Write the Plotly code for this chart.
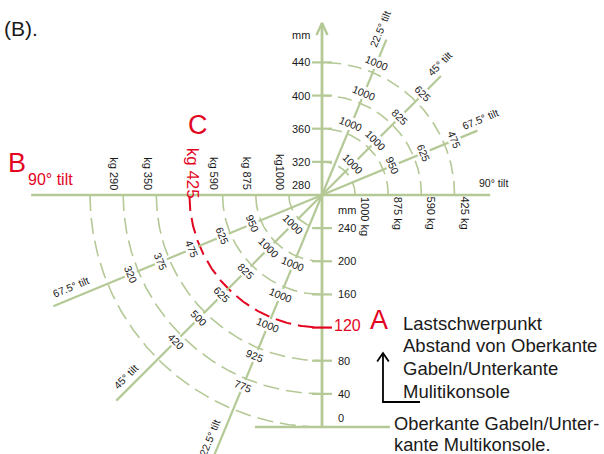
import numpy as np
import plotly.graph_objects as go

# ---------------- data ----------------
center_level = 280                      # mm level of the tilt pivot
lower_levels = [240, 200, 160, 120, 80, 40, 0]
upper_levels = [320, 360, 400, 440]
tilts = [22.5, 45, 67.5, 90]
highlight_level = 120

mm_tick_values = [40, 80, 120, 160, 200, 240, 320, 360, 400, 440]
mm_label_values = [0, 40, 80, 120, 160, 200, 240, 280, 320, 360, 400, 440]

left_kg_levels = [240, 200, 160, 120, 80, 40]
left_kg_labels = ["kg1000", "kg 875", "kg 590", "kg 425", "kg 350", "kg 290"]
right_kg_levels = [320, 360, 400, 440]
right_kg_labels = ["1000 kg", "875 kg", "590 kg", "425 kg"]

upper_cap_levels = [320, 360, 400, 440]
upper_cap_22 = [None, "1000", "1000", "1000"]
upper_cap_45 = ["1000", "1000", "825", "625"]
upper_cap_67 = [None, "950", "625", "475"]

lower_cap_levels = [240, 200, 160, 120, 80, 40]
lower_cap_22 = [None, "1000", "1000", "1000", "925", "775"]
lower_cap_45 = ["1000", "1000", "825", "625", "500", "420"]
lower_cap_67 = [None, "950", "625", "475", "375", "320"]

info_lines = ["Lastschwerpunkt", "Abstand von Oberkante", "Gabeln/Unterkante", "Mulitikonsole"]
base_lines = ["Oberkante Gabeln/Unter-", "kante Multikonsole."]

# ---------------- style ----------------
GREEN = "#b4c996"
RED = "#e3051f"
TXT = "#1a1a1a"
FONT = "Liberation Sans, Arial, sans-serif"
K = 0.8286  # px per mm unit
W, H = 604, 454
OX, OY0 = 322, 427  # pixel of x=0 and of level 0

UP_LEN, LO_LEN = 203, 351
AXIS_TOP = 487.6

fig = go.Figure()


def pol(r, th):
    t = np.radians(th)
    return r * np.cos(t), center_level + r * np.sin(t)


def add_line(xs, ys, color, width, dash="solid"):
    fig.add_trace(go.Scatter(x=list(xs), y=list(ys), mode="lines",
                             line=dict(color=color, width=width, dash=dash),
                             hoverinfo="skip", showlegend=False))


def ann(x, y, text, size=11, color=TXT, angle=0, xanchor="center", yanchor="middle", bg=None):
    kw = dict(x=x, y=y, text=text, showarrow=False, textangle=angle,
              font=dict(size=size, color=color, family=FONT),
              xanchor=xanchor, yanchor=yanchor, borderpad=0)
    if bg:
        kw["bgcolor"] = bg
    fig.add_annotation(**kw)


# arcs
for lv in lower_levels:
    r = center_level - lv
    xs, ys = pol(r, np.linspace(180, 270, 160))
    red = lv == highlight_level
    add_line(xs, ys, RED if red else GREEN, 2 if red else 1.6, "16px,7px")
for lv in upper_levels:
    r = lv - center_level
    xs, ys = pol(r, np.linspace(0, 90, 120))
    add_line(xs, ys, GREEN, 1.6, "14px,7px")

# tilt lines
for tilt in tilts:
    xs, ys = pol(np.array([0, UP_LEN]), 90 - tilt)
    add_line(xs, ys, GREEN, 2.4 if tilt == 90 else 2.2)
    xs, ys = pol(np.array([0, LO_LEN]), 270 - tilt)
    add_line(xs, ys, GREEN, 2.4 if tilt == 90 else 2.2)

# vertical axis + baseline
add_line([0, 0], [0, AXIS_TOP], GREEN, 2.8)
add_line([-6.6, 0, 6.6], [AXIS_TOP - 14.5, AXIS_TOP, AXIS_TOP - 14.5], GREEN, 2.4)
add_line([-81, 82], [0, 0], GREEN, 2.6)

# ticks
for v in mm_tick_values:
    add_line([-12, 12], [v, v], RED if v == highlight_level else GREEN, 2.2)

# black arrow
add_line([73.6, 73.6, 118.3], [89.3, 30.2, 30.2], "black", 1.8)
add_line([66.6, 73.6, 80.6], [79, 89.3, 79], "black", 1.8)

# mm labels
for v in mm_label_values:
    if v == highlight_level:
        ann(13.3, v + 3, str(v), size=16, color=RED, xanchor="left")
    elif v > center_level:
        ann(-13.3, v, str(v), xanchor="right")
    elif v == center_level:
        ann(-13.3, v + 4, str(v), xanchor="right", yanchor="bottom")
    elif v == 0:
        ann(18.1, v + 11, str(v), xanchor="left")
    else:
        ann(18.1, v, str(v), xanchor="left")
ann(-13.3, 473, "mm", xanchor="right")
ann(18.1, 262, "mm", xanchor="left")

# kg labels
for lv, t in zip(left_kg_levels, left_kg_labels):
    r = center_level - lv
    if lv == highlight_level:
        ann(-r + 4, 274, t, size=17, color=RED, angle=90, yanchor="bottom")
    else:
        ann(-r - 11, 285, t, angle=90, yanchor="bottom")
for lv, t in zip(right_kg_levels, right_kg_labels):
    r = lv - center_level
    ann(r + 12, 279.4, t, angle=90, yanchor="top")

# capacity labels
for tilt, labs in zip([22.5, 45, 67.5], [upper_cap_22, upper_cap_45, upper_cap_67]):
    for lv, t in zip(upper_cap_levels, labs):
        if t:
            x, y = pol(lv - center_level + 13, 90 - tilt)
            ann(x, y, t, size=10.5, angle=tilt, bg="white")
for tilt, labs in zip([22.5, 45, 67.5], [lower_cap_22, lower_cap_45, lower_cap_67]):
    for lv, t in zip(lower_cap_levels, labs):
        if t:
            x, y = pol(center_level - lv + 10, 270 - tilt)
            ann(x, y, t, size=10.5, angle=tilt, bg="white")

# tilt labels
for tilt in tilts:
    th = 90 - tilt
    t = np.radians(th)
    along, perp = (207, 14) if tilt == 90 else (212, 12)
    x = along * np.cos(t) + perp * np.cos(t + np.pi / 2)
    y = center_level + along * np.sin(t) + perp * np.sin(t + np.pi / 2)
    ann(x, y, f"{tilt:g}° tilt", size=10.5, angle=-th)

    th = 270 - tilt
    t = np.radians(th)
    if tilt == 90:
        along, perp, size, col = 328, 19, 16, RED
    else:
        along, perp, size, col = 323, 13, 10.5, TXT
    x = along * np.cos(t) + perp * np.cos(t - np.pi / 2)
    y = center_level + along * np.sin(t) + perp * np.sin(t - np.pi / 2)
    ann(x, y, f"{tilt:g}° tilt", size=size, color=col, angle=180 - th)

# big letters
ann(68.8, 129, "A", size=27, color=RED)
ann(-368, 318.6, "B", size=27, color=RED)
ann(-150, 364.5, "C", size=27, color=RED)
ann(-385, 481.5, "(B).", size=21, xanchor="left")

# right side texts
for i, t in enumerate(info_lines):
    ann(96.5, 125.5 - i * 27.4, t, size=18.5, xanchor="left")
for i, t in enumerate(base_lines):
    ann(85.7, 4.8 - i * 25.5, t, size=18.3, xanchor="left")

fig.update_layout(
    width=W, height=H,
    margin=dict(l=0, r=0, t=0, b=0, pad=0),
    paper_bgcolor="white", plot_bgcolor="white",
    xaxis=dict(visible=False, range=[-OX / K, (W - OX) / K], fixedrange=True),
    yaxis=dict(visible=False, range=[(OY0 - H) / K, OY0 / K], fixedrange=True),
    showlegend=False,
)

fig.write_html("out.html", config={"displayModeBar": False},
               post_script="document.body.style.margin='0';")
